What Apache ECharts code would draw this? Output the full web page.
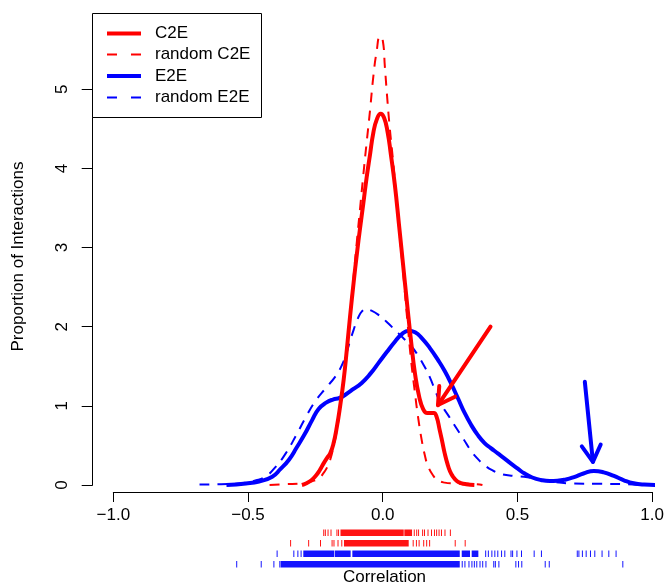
<!DOCTYPE html>
<html><head><meta charset="utf-8">
<script src="https://cdn.jsdelivr.net/npm/echarts@6/dist/echarts.min.js"></script>
<style>html,body{margin:0;padding:0;background:#fff}#c{width:667px;height:584px}</style>
</head><body><div id="c"></div>
<script>
// ---------- data ----------
const xTicks = [-1, -0.5, 0, 0.5, 1];
const yTicks = [0, 1, 2, 3, 4, 5];
const seriesNames = ['C2E', 'random C2E', 'E2E', 'random E2E'];
const xTitle = 'Correlation';
const yTitle = 'Proportion of Interactions';

const c2e = [[-0.30,0.0],[-0.285,0.02],[-0.265,0.06],[-0.25,0.11],[-0.235,0.18],[-0.22,0.27],[-0.207,0.34],[-0.195,0.40],[-0.183,0.52],[-0.17,0.74],[-0.158,1.0],[-0.145,1.33],[-0.133,1.72],[-0.121,2.14],[-0.108,2.56],[-0.096,2.92],[-0.084,3.25],[-0.072,3.56],[-0.06,3.88],[-0.047,4.18],[-0.035,4.45],[-0.022,4.62],[-0.008,4.69],[0.005,4.64],[0.018,4.46],[0.03,4.18],[0.045,3.79],[0.06,3.30],[0.075,2.80],[0.09,2.30],[0.105,1.82],[0.12,1.40],[0.135,1.12],[0.15,0.96],[0.165,0.91],[0.178,0.91],[0.19,0.91],[0.2,0.86],[0.211,0.70],[0.22,0.56],[0.23,0.40],[0.24,0.27],[0.25,0.17],[0.26,0.11],[0.275,0.05],[0.29,0.025],[0.31,0.01],[0.34,0.0]];

const randomC2e = [[-0.42,0.0],[-0.36,0.01],[-0.30,0.02],[-0.26,0.05],[-0.235,0.09],[-0.22,0.15],[-0.207,0.22],[-0.195,0.32],[-0.183,0.48],[-0.17,0.70],[-0.158,0.98],[-0.145,1.33],[-0.133,1.75],[-0.12,2.2],[-0.108,2.64],[-0.096,3.08],[-0.084,3.5],[-0.072,3.92],[-0.06,4.32],[-0.047,4.74],[-0.035,5.16],[-0.023,5.47],[-0.01,5.67],[0.0,5.62],[0.008,5.28],[0.016,4.92],[0.025,4.55],[0.039,4.07],[0.051,3.6],[0.064,3.12],[0.078,2.6],[0.092,2.05],[0.105,1.58],[0.119,1.18],[0.131,0.86],[0.144,0.58],[0.156,0.38],[0.168,0.24],[0.187,0.12],[0.205,0.06],[0.23,0.03],[0.26,0.02],[0.35,0.01],[0.37,0.0]];

const e2e = [[-0.58,0.00],[-0.508,0.02],[-0.459,0.045],[-0.41,0.105],[-0.38,0.2],[-0.348,0.32],[-0.32,0.47],[-0.29,0.64],[-0.262,0.82],[-0.238,0.96],[-0.21,1.04],[-0.185,1.08],[-0.16,1.10],[-0.135,1.15],[-0.11,1.21],[-0.078,1.29],[-0.045,1.41],[-0.016,1.54],[0.015,1.68],[0.045,1.81],[0.072,1.91],[0.096,1.95],[0.12,1.93],[0.144,1.86],[0.175,1.73],[0.205,1.58],[0.23,1.44],[0.254,1.28],[0.28,1.09],[0.304,0.91],[0.328,0.76],[0.353,0.63],[0.378,0.53],[0.40,0.47],[0.427,0.40],[0.45,0.34],[0.476,0.27],[0.50,0.21],[0.525,0.148],[0.555,0.095],[0.587,0.063],[0.62,0.05],[0.648,0.053],[0.68,0.07],[0.71,0.10],[0.745,0.145],[0.784,0.177],[0.82,0.16],[0.858,0.114],[0.895,0.06],[0.931,0.022],[0.97,0.006],[1.03,0.0]];

const randomE2e = [[-0.68,0.005],[-0.60,0.01],[-0.53,0.02],[-0.47,0.06],[-0.434,0.11],[-0.40,0.22],[-0.36,0.40],[-0.318,0.65],[-0.285,0.86],[-0.25,1.06],[-0.21,1.23],[-0.176,1.37],[-0.155,1.49],[-0.139,1.62],[-0.123,1.80],[-0.108,1.96],[-0.093,2.10],[-0.078,2.19],[-0.06,2.22],[-0.04,2.20],[-0.016,2.15],[0.015,2.06],[0.045,1.96],[0.075,1.86],[0.107,1.75],[0.13,1.64],[0.156,1.49],[0.175,1.36],[0.195,1.19],[0.217,1.02],[0.245,0.87],[0.273,0.72],[0.30,0.58],[0.322,0.46],[0.35,0.34],[0.378,0.25],[0.41,0.18],[0.439,0.14],[0.488,0.114],[0.537,0.097],[0.58,0.07],[0.63,0.04],[0.70,0.02],[0.80,0.015],[0.90,0.01],[0.95,0.0]];

// rug marks: [from, to] (single tick when from == to)
const rugC2e = [[-0.219,-0.219],[-0.213,-0.213],[-0.203,-0.203],[-0.192,-0.192],[-0.170,-0.170],[-0.164,-0.164],[-0.155,0.076],[0.082,0.107],[0.117,0.117],[0.126,0.126],[0.133,0.133],[0.148,0.148],[0.155,0.155],[0.168,0.168],[0.181,0.181],[0.192,0.192],[0.200,0.200],[0.209,0.209],[0.218,0.218],[0.231,0.231],[0.251,0.251]];
const rugRandomC2e = [[-0.342,-0.342],[-0.275,-0.275],[-0.231,-0.231],[-0.188,-0.188],[-0.181,-0.181],[-0.166,-0.166],[-0.152,-0.152],[-0.142,0.0945],[0.113,0.113],[0.125,0.125],[0.135,0.135],[0.152,0.152],[0.163,0.163],[0.174,0.174],[0.269,0.269],[0.306,0.306]];
const rugE2e = [[-0.392,-0.392],[-0.330,-0.330],[-0.315,-0.315],[-0.303,-0.303],[-0.293,-0.182],[-0.176,-0.121],[-0.111,0.284],[0.295,0.322],[0.332,0.353],[0.382,0.382],[0.392,0.392],[0.405,0.405],[0.416,0.416],[0.427,0.427],[0.441,0.441],[0.453,0.453],[0.476,0.476],[0.482,0.482],[0.498,0.498],[0.515,0.515],[0.562,0.562],[0.589,0.589],[0.722,0.722],[0.728,0.728],[0.741,0.741],[0.755,0.755],[0.771,0.771],[0.787,0.787],[0.814,0.814],[0.839,0.839],[0.866,0.866]];
const rugRandomE2e = [[-0.542,-0.542],[-0.451,-0.451],[-0.404,-0.404],[-0.382,-0.382],[-0.377,0.284],[0.295,0.295],[0.305,0.305],[0.320,0.320],[0.331,0.331],[0.340,0.340],[0.349,0.349],[0.361,0.361],[0.371,0.371],[0.383,0.383],[0.412,0.412],[0.418,0.418],[0.431,0.431],[0.494,0.494],[0.504,0.504],[0.516,0.516],[0.603,0.603],[0.618,0.618],[0.891,0.891]];

// arrows: [x0, y0, x1, y1] (tip at x1,y1)
const arrowC2e = [[0.40, 2.0, 0.205, 1.01]];
const arrowE2e = [[0.75, 1.305, 0.78, 0.293]];

// ---------- styling ----------
const RED = '#ff0000', BLUE = '#0000ff';
const FONT = '"Liberation Sans", Arial, Helvetica, sans-serif';
const FS = 17;

function rugSeries(data, color, rowOffset) {
  return {
    type: 'custom', data: data, encode: { x: [0, 1] }, clip: false, silent: true, z: 5,
    renderItem: function (params, api) {
      const a = api.coord([api.value(0), 0]);
      const b = api.coord([api.value(1), 0]);
      const w = Math.max(1, b[0] - a[0] + 1);
      return { type: 'rect', shape: { x: a[0] - 0.5, y: a[1] + rowOffset, width: w, height: 6.5 },
               style: { fill: color, opacity: 0.92 } };
    }
  };
}
function arrowSeries(data, color) {
  return {
    type: 'custom', data: data, encode: { x: [0, 2], y: [1, 3] }, clip: false, silent: true, z: 6,
    renderItem: function (params, api) {
      const p0 = api.coord([api.value(0), api.value(1)]);
      const p1 = api.coord([api.value(2), api.value(3)]);
      const dx = p0[0] - p1[0], dy = p0[1] - p1[1];
      const L = Math.hypot(dx, dy), ux = dx / L, uy = dy / L;
      const h = 19, ang = Math.PI / 6, c = Math.cos(ang), s = Math.sin(ang);
      const w1 = [p1[0] + h * (ux * c - uy * s), p1[1] + h * (ux * s + uy * c)];
      const w2 = [p1[0] + h * (ux * c + uy * s), p1[1] + h * (-ux * s + uy * c)];
      const st = { stroke: color, lineWidth: 4, lineCap: 'round', lineJoin: 'round', fill: null };
      return { type: 'group', children: [
        { type: 'polyline', shape: { points: [p0, p1] }, style: st },
        { type: 'polyline', shape: { points: [w1, p1, w2] }, style: st }
      ] };
    }
  };
}
function lineSeries(name, data, color, width, dashed, z) {
  return {
    name: name, type: 'line', data: data, showSymbol: false, symbol: 'none', clip: false,
    smooth: 0.5, z: z, silent: true,
    lineStyle: { color: color, width: width, type: dashed ? [10, 8] : 'solid', cap: 'butt', join: 'round' }
  };
}

const legendColors = [RED, RED, BLUE, BLUE];
const legendDashed = [false, true, false, true];
const legendRowsY = [33.5, 54.5, 76, 97.5];
const legendEls = [{ type: 'rect', shape: { x: 92.5, y: 13.5, width: 169, height: 104 },
                     style: { fill: '#fff', stroke: '#000', lineWidth: 1 }, z: 100 }];
seriesNames.forEach(function (n, i) {
  legendEls.push({ type: 'line', shape: { x1: 107, y1: legendRowsY[i], x2: 141, y2: legendRowsY[i] },
    style: { stroke: legendColors[i], lineWidth: legendDashed[i] ? 2 : 4,
             lineDash: legendDashed[i] ? [10, 14] : null }, z: 101 });
  legendEls.push({ type: 'text', x: 155, y: legendRowsY[i],
    style: { text: n, font: FS + 'px ' + FONT, fill: '#000', textAlign: 'left', textVerticalAlign: 'middle' }, z: 101 });
});
legendEls.push({ type: 'text', x: 18, y: 256.5, rotation: Math.PI / 2,
  style: { text: yTitle, font: FS + 'px ' + FONT, fill: '#000', textAlign: 'center', textVerticalAlign: 'middle' } });
legendEls.push({ type: 'text', x: 384.5, y: 577,
  style: { text: xTitle, font: FS + 'px ' + FONT, fill: '#000', textAlign: 'center', textVerticalAlign: 'middle' } });

const fmtX = function (v) { return (v < 0 ? '\u2212' : '') + Math.abs(v).toFixed(1); };

const option = {
  animation: false,
  backgroundColor: '#fff',
  grid: { left: 113.3, right: 11.7, top: 89.3, bottom: 99, containLabel: false },
  xAxis: {
    type: 'value', min: xTicks[0], max: xTicks[xTicks.length - 1], interval: xTicks[1] - xTicks[0],
    offset: 7,
    axisLine: { show: true, onZero: false, lineStyle: { color: '#000', width: 1 } },
    axisTick: { show: true, length: 10, lineStyle: { color: '#000', width: 1 } },
    axisLabel: { color: '#000', fontSize: FS, fontFamily: FONT, margin: 15, formatter: fmtX, showMinLabel: true, showMaxLabel: true },
    splitLine: { show: false }
  },
  yAxis: {
    type: 'value', min: yTicks[0], max: yTicks[yTicks.length - 1], interval: yTicks[1] - yTicks[0],
    offset: 20.6,
    axisLine: { show: true, onZero: false, lineStyle: { color: '#000', width: 1 } },
    axisTick: { show: true, length: 11, lineStyle: { color: '#000', width: 1 } },
    axisLabel: { color: '#000', fontSize: FS, fontFamily: FONT, rotate: 90, margin: 22 },
    splitLine: { show: false }
  },
  series: [
    lineSeries(seriesNames[3], randomE2e, BLUE, 2, true, 2),
    lineSeries(seriesNames[2], e2e, BLUE, 4, false, 3),
    lineSeries(seriesNames[1], randomC2e, RED, 2, true, 4),
    lineSeries(seriesNames[0], c2e, RED, 4, false, 5),
    arrowSeries(arrowC2e, RED),
    arrowSeries(arrowE2e, BLUE),
    rugSeries(rugC2e, RED, 44.5),
    rugSeries(rugRandomC2e, RED, 55),
    rugSeries(rugE2e, BLUE, 65.5),
    rugSeries(rugRandomE2e, BLUE, 76)
  ],
  graphic: legendEls
};
const chart = echarts.init(document.getElementById('c'));
chart.setOption(option);
</script>
</body></html>
